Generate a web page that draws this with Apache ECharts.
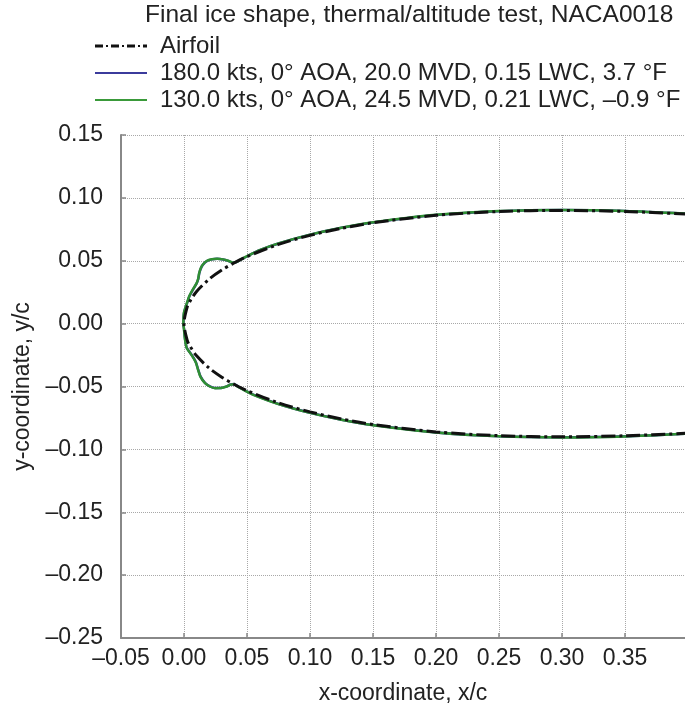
<!DOCTYPE html>
<html>
<head>
<meta charset="utf-8">
<script src="https://cdn.jsdelivr.net/npm/echarts@6/dist/echarts.min.js"></script>
<style>
html,body{margin:0;padding:0;background:#fff;}
#chart{width:685px;height:710px;}
</style>
</head>
<body>
<div id="chart"></div>
<script>
// ---- data ----
const titleText = 'Final ice shape, thermal/altitude test, NACA0018';
const seriesNames = [
  'Airfoil',
  '180.0 kts, 0\u00b0 AOA, 20.0 MVD, 0.15 LWC, 3.7 \u00b0F',
  '130.0 kts, 0\u00b0 AOA, 24.5 MVD, 0.21 LWC, \u20130.9 \u00b0F'
];

const airfoilX     = [0, 0.0025, 0.005, 0.01, 0.02, 0.03, 0.04, 0.05, 0.075, 0.10, 0.125, 0.15, 0.20, 0.25, 0.30, 0.35, 0.40];
const airfoilUpper = [0, 0.0131, 0.0183, 0.0256, 0.0354, 0.0426, 0.0484, 0.0533, 0.0630, 0.0702, 0.0758, 0.0802, 0.0861, 0.0891, 0.0900, 0.0892, 0.0871];
const airfoilLower = [0, -0.0131, -0.0183, -0.0256, -0.0354, -0.0426, -0.0484, -0.0533, -0.0630, -0.0702, -0.0758, -0.0802, -0.0861, -0.0891, -0.0900, -0.0892, -0.0871];

// 130 kts ice shape (green)
const ice130UpperX = [-0.0005, 0.0000, 0.0026, 0.0042, 0.0074, 0.0098, 0.0112, 0.0120, 0.0132, 0.0150, 0.0180, 0.0220, 0.0262, 0.0310, 0.0350, 0.0388, 0.0420, 0.0460, 0.0520, 0.0600, 0.0750, 0.100, 0.125, 0.150, 0.200, 0.250, 0.300, 0.350, 0.400];
const ice130UpperY = [0.0000, 0.0090, 0.0172, 0.0219, 0.0278, 0.0318, 0.0355, 0.0400, 0.0438, 0.0470, 0.0498, 0.0512, 0.0516, 0.0511, 0.0500, 0.0485, 0.0492, 0.0515, 0.0546, 0.0585, 0.0638, 0.0708, 0.0763, 0.0806, 0.0865, 0.0895, 0.0904, 0.0896, 0.0874];
const ice130LowerX = [-0.0005, 0.0000, 0.0008, 0.0021, 0.0048, 0.0074, 0.0095, 0.0111, 0.0130, 0.0167, 0.0205, 0.0246, 0.0295, 0.0339, 0.0370, 0.0395, 0.0430, 0.0480, 0.0550, 0.0750, 0.100, 0.125, 0.150, 0.200, 0.250, 0.300, 0.350, 0.400];
const ice130LowerY = [0.0000, -0.0048, -0.0127, -0.0193, -0.0233, -0.0272, -0.0312, -0.0365, -0.0421, -0.0474, -0.0500, -0.0513, -0.0512, -0.0500, -0.0485, -0.0482, -0.0503, -0.0530, -0.0566, -0.0640, -0.0710, -0.0765, -0.0808, -0.0866, -0.0896, -0.0905, -0.0897, -0.0875];

// 180 kts ice shape (blue, almost fully hidden under the green one)
const ice180UpperX = [-0.0004, 0.0001, 0.0027, 0.0043, 0.0075, 0.0099, 0.0113, 0.0121, 0.0133, 0.0151, 0.0181, 0.0221, 0.0263, 0.0311, 0.0351, 0.0389, 0.0421, 0.0461, 0.0520, 0.0600, 0.0750, 0.100, 0.125, 0.150, 0.200, 0.250, 0.300, 0.350, 0.400];
const ice180UpperY = [0.0000, 0.0089, 0.0171, 0.0218, 0.0277, 0.0317, 0.0354, 0.0399, 0.0437, 0.0469, 0.0497, 0.0511, 0.0515, 0.0510, 0.0499, 0.0484, 0.0491, 0.0514, 0.0545, 0.0584, 0.0637, 0.0707, 0.0762, 0.0805, 0.0864, 0.0894, 0.0903, 0.0895, 0.0873];
const ice180LowerX = [-0.0004, 0.0001, 0.0009, 0.0022, 0.0049, 0.0075, 0.0096, 0.0112, 0.0131, 0.0168, 0.0206, 0.0247, 0.0296, 0.0340, 0.0371, 0.0396, 0.0431, 0.0480, 0.0550, 0.0750, 0.100, 0.125, 0.150, 0.200, 0.250, 0.300, 0.350, 0.400];
const ice180LowerY = [0.0000, -0.0047, -0.0126, -0.0192, -0.0232, -0.0271, -0.0311, -0.0364, -0.0420, -0.0473, -0.0499, -0.0512, -0.0511, -0.0499, -0.0484, -0.0481, -0.0502, -0.0529, -0.0565, -0.0639, -0.0709, -0.0764, -0.0807, -0.0865, -0.0895, -0.0904, -0.0896, -0.0874];

const xTicks = { min: -0.05, max: 0.3976, step: 0.05 };
const yTicks = { min: -0.25, max: 0.15, step: 0.05 };

// ---- build paths around the nose (upper reversed, then lower) ----
function path(ux, uy, lx, ly) {
  const pts = [];
  for (let i = ux.length - 1; i >= 0; i--) pts.push([ux[i], uy[i]]);
  for (let i = 1; i < lx.length; i++) pts.push([lx[i], ly[i]]);
  return pts;
}
const airfoilPath = path(airfoilX, airfoilUpper, airfoilX, airfoilLower);
const ice130Path = path(ice130UpperX, ice130UpperY, ice130LowerX, ice130LowerY);
const ice180Path = path(ice180UpperX, ice180UpperY, ice180LowerX, ice180LowerY);

const FONT = '"Liberation Sans", Arial, Helvetica, sans-serif';
const TXT = '#222';
const fmt = v => { if (Math.abs(v) < 1e-9) v = 0; return (v < 0 ? '\u2013' : '') + Math.abs(v).toFixed(2); };

// legend icons: dash-dot bar for the airfoil, thin solid bar for the ice shapes
const dashDotIcon = 'path://M0,0h8v3h-8z M11,0.5h2v2h-2z M16,0h8v3h-8z M27,0.5h2v2h-2z M32,0h8v3h-8z M43,0.5h2v2h-2z M48,0h4v3h-4z';
const solidIcon = 'path://M0,0.6h52v1.8h-52z M0,0h0.01v3h-0.01z';

const axisCommon = {
  type: 'value',
  nameLocation: 'middle',
  nameTextStyle: { fontSize: 23, color: TXT, fontFamily: FONT },
  axisLine: { onZero: false, lineStyle: { color: '#888', width: 2 } },
  axisTick: { inside: true, length: 5, lineStyle: { color: '#888', width: 1.5 } },
  splitLine: { show: true, lineStyle: { type: 'dotted', color: '#a8a8a8', width: 1 } }
};

const chart = echarts.init(document.getElementById('chart'), null, { renderer: 'canvas' });
chart.setOption({
  animation: false,
  backgroundColor: '#fff',
  textStyle: { fontFamily: FONT },
  title: {
    text: titleText,
    left: 145, top: 3, padding: 0,
    textStyle: { fontSize: 24.5, fontWeight: 'normal', color: TXT, fontFamily: FONT }
  },
  legend: {
    orient: 'vertical',
    left: 95, top: 34, padding: 0,
    itemWidth: 52, itemHeight: 3, itemGap: 3,
    data: [
      { name: seriesNames[0], icon: dashDotIcon },
      { name: seriesNames[1], icon: solidIcon },
      { name: seriesNames[2], icon: solidIcon }
    ],
    textStyle: { fontSize: 24, color: TXT, fontFamily: FONT, padding: [0, 0, 0, 8], lineHeight: 23 }
  },
  grid: { left: 121, right: 0, top: 135, bottom: 70 },
  xAxis: Object.assign({}, axisCommon, {
    min: xTicks.min, max: xTicks.max, interval: xTicks.step,
    name: 'x-coordinate, x/c', nameGap: 44,
    axisLabel: { fontSize: 23, color: TXT, fontFamily: FONT, margin: 9, formatter: fmt, showMaxLabel: false }
  }),
  yAxis: Object.assign({}, axisCommon, {
    min: yTicks.min, max: yTicks.max, interval: yTicks.step,
    name: 'y-coordinate, y/c', nameGap: 83, nameRotate: 90,
    axisLabel: { fontSize: 23, color: TXT, fontFamily: FONT, margin: 18, formatter: fmt }
  }),
  series: [
    {
      name: seriesNames[1], type: 'line', data: ice180Path, symbol: 'none', smooth: 0.25, z: 2,
      lineStyle: { color: '#3b3b9c', width: 2.5 }, itemStyle: { color: '#3b3b9c' }
    },
    {
      name: seriesNames[2], type: 'line', data: ice130Path, symbol: 'none', smooth: 0.25, z: 3,
      lineStyle: { color: '#2f8f33', width: 2.5 }, itemStyle: { color: '#3a9a3a' }
    },
    {
      name: seriesNames[0], type: 'line', data: airfoilPath, symbol: 'none', smooth: 0.3, z: 4,
      lineStyle: { color: '#111', width: 3, type: [14, 4, 3, 4] }, itemStyle: { color: '#111' }
    }
  ]
});
</script>
</body>
</html>
